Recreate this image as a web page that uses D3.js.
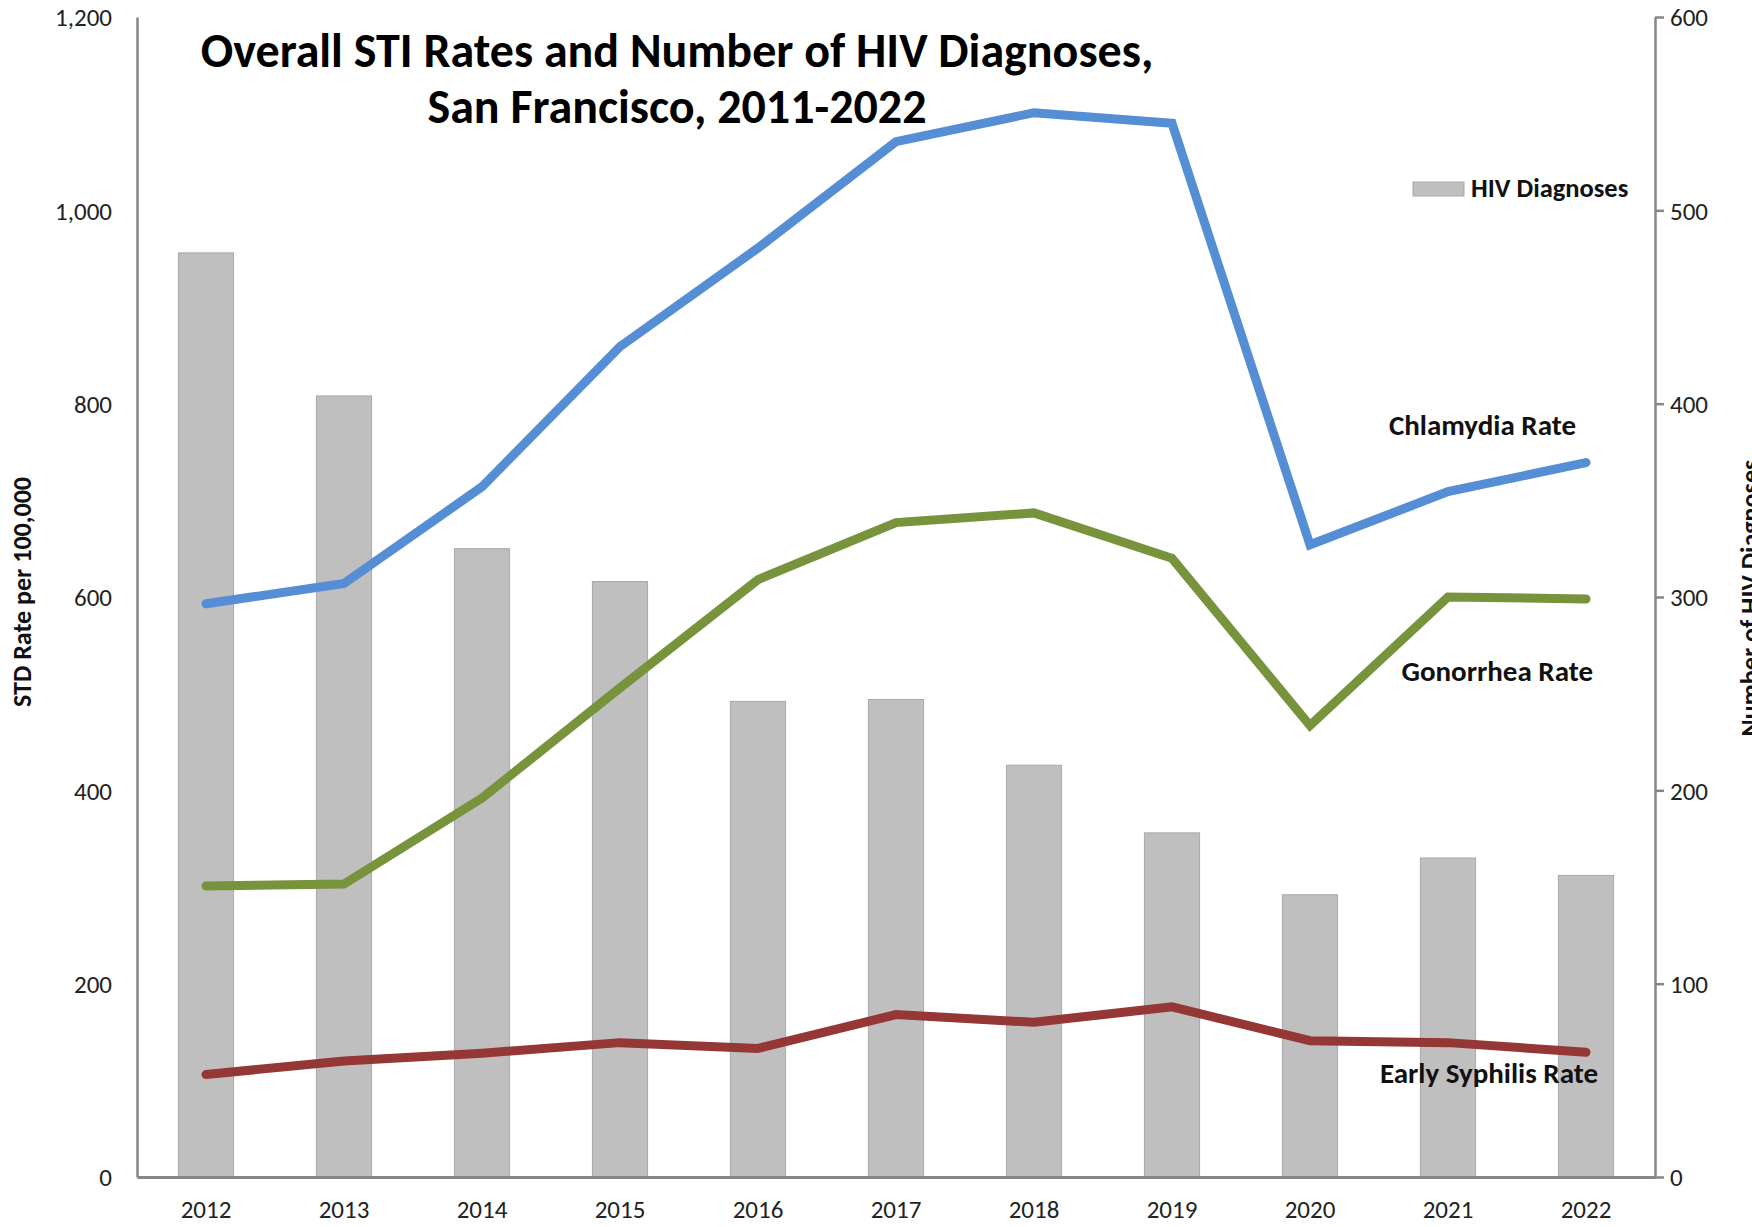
<!DOCTYPE html>
<html><head><meta charset="utf-8">
<script src="https://cdn.jsdelivr.net/npm/d3@7"></script>
<style>
html,body{margin:0;padding:0;background:#fff;overflow:hidden;}
svg{display:block;}
text{font-family:Carlito,Calibri,Lato,"Open Sans",sans-serif;}
</style></head>
<body>
<svg id="chart" width="1752" height="1227"></svg>
<script>
const years = ["2012","2013","2014","2015","2016","2017","2018","2019","2020","2021","2022"];
const hivDiagnoses = [478, 404, 325, 308, 246, 247, 213, 178, 146, 165, 156];
const chlamydiaRate = [593, 614, 714, 859, 961, 1071, 1101, 1090, 654, 709, 739];
const gonorrheaRate = [301, 303, 392, 506, 618, 677, 687, 640, 467, 600, 598];
const syphilisRate = [106, 120, 128, 139, 133, 168, 160, 176, 141, 139, 129];
const leftTicks = [0, 200, 400, 600, 800, 1000, 1200];
const rightTicks = [0, 100, 200, 300, 400, 500, 600];

const svg = d3.select("#chart");
const L = 137, R = 1655, T = 17, B = 1177;
const axisColor = "#868686";

const x = d3.scaleBand().domain(years).range([L, R]).paddingInner(0).paddingOuter(0);
const yL = d3.scaleLinear().domain([0, 1200]).range([B, T]);
const yR = d3.scaleLinear().domain([0, 600]).range([B, T]);
const barW = x.bandwidth() * 0.4;

// bars
svg.append("g").selectAll("rect").data(years).join("rect")
  .attr("x", d => x(d) + x.bandwidth()/2 - barW/2)
  .attr("y", (d,i) => yR(hivDiagnoses[i]))
  .attr("width", barW)
  .attr("height", (d,i) => B - yR(hivDiagnoses[i]))
  .attr("fill", "#BFBFBF")
  .attr("stroke", "#A9A9A9")
  .attr("stroke-width", 1);

// left axis
const gL = svg.append("g").attr("transform", `translate(${L},0)`)
  .call(d3.axisLeft(yL).tickValues(leftTicks).tickSize(0).tickPadding(25).tickFormat(d3.format(",")));
gL.select(".domain").attr("stroke", axisColor).attr("stroke-width", 2.5);
gL.selectAll("text").attr("font-size", 25).attr("fill", "#222").attr("dy", "0.35em");

// right axis
const gR = svg.append("g").attr("transform", `translate(${R},0)`)
  .call(d3.axisRight(yR).tickValues(rightTicks).tickSize(9).tickSizeOuter(0).tickPadding(6));
gR.select(".domain").attr("stroke", axisColor).attr("stroke-width", 2.5);
gR.selectAll(".tick line").attr("stroke", axisColor).attr("stroke-width", 2.5);
gR.selectAll("text").attr("font-size", 25).attr("fill", "#222").attr("dy", "0.35em");

// bottom axis
const gB = svg.append("g").attr("transform", `translate(0,${B})`)
  .call(d3.axisBottom(x).tickSize(0).tickPadding(23));
gB.select(".domain").attr("stroke", axisColor).attr("stroke-width", 3);
gB.selectAll("text").attr("font-size", 25).attr("fill", "#222").attr("dy", "0.71em");

// lines
const line = d3.line().x((d,i) => x(years[i]) + x.bandwidth()/2).y(d => yL(d));
const series = [
  {vals: chlamydiaRate, color: "#558ED5"},
  {vals: gonorrheaRate, color: "#77933C"},
  {vals: syphilisRate, color: "#953735"}
];
svg.append("g").selectAll("path").data(series).join("path")
  .attr("d", d => line(d.vals))
  .attr("fill", "none")
  .attr("stroke", d => d.color)
  .attr("stroke-width", 9)
  .attr("stroke-linejoin", "miter")
  .attr("stroke-linecap", "round");

// series labels
const lab = [
  {t: "Chlamydia Rate", x: 1576, y: 435},
  {t: "Gonorrhea Rate", x: 1593, y: 681},
  {t: "Early Syphilis Rate", x: 1598, y: 1083}
];
svg.append("g").selectAll("text").data(lab).join("text")
  .attr("x", d => d.x).attr("y", d => d.y)
  .attr("text-anchor", "end").attr("font-size", 29).attr("font-weight", "bold").attr("fill", "#111")
  .text(d => d.t);

// legend
svg.append("rect").attr("x", 1413).attr("y", 182).attr("width", 51).attr("height", 14)
  .attr("fill", "#BFBFBF").attr("stroke", "#A9A9A9").attr("stroke-width", 1);
svg.append("text").attr("x", 1471).attr("y", 197).attr("font-size", 26.5).attr("font-weight", "bold")
  .attr("fill", "#111").text("HIV Diagnoses");

// title
svg.append("text").attr("x", 677).attr("y", 67).attr("text-anchor", "middle")
  .attr("font-size", 48).attr("font-weight", "bold").attr("fill", "#000")
  .text("Overall STI Rates and Number of HIV Diagnoses,");
svg.append("text").attr("x", 677).attr("y", 123).attr("text-anchor", "middle")
  .attr("font-size", 48).attr("font-weight", "bold").attr("fill", "#000")
  .text("San Francisco, 2011-2022");

// axis titles
svg.append("text").attr("transform", "translate(31,592) rotate(-90)").attr("text-anchor", "middle")
  .attr("font-size", 26).attr("font-weight", "bold").attr("fill", "#111").text("STD Rate per 100,000");
svg.append("text").attr("transform", "translate(1759,598) rotate(-90)").attr("text-anchor", "middle")
  .attr("font-size", 26).attr("font-weight", "bold").attr("fill", "#111").text("Number of HIV Diagnoses");
</script>
</body></html>
